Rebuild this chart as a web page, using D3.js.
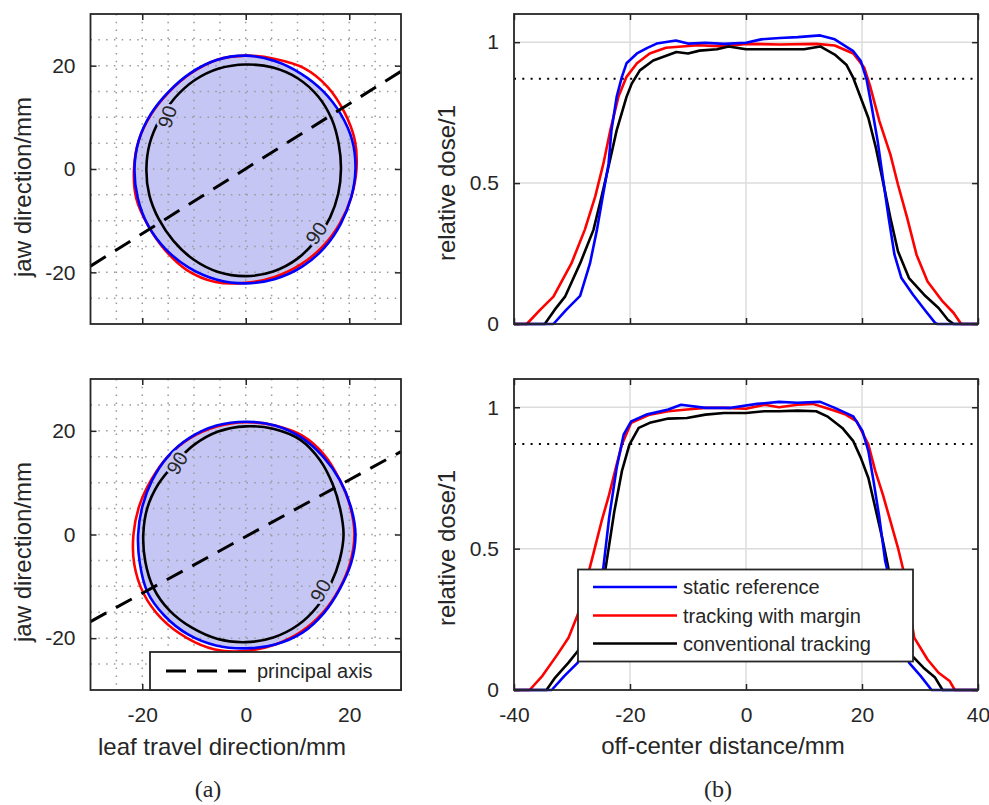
<!DOCTYPE html>
<html><head><meta charset="utf-8">
<script src="https://cdn.jsdelivr.net/npm/d3@7"></script>
<style>body{margin:0;background:#fff}svg text{font-family:"Liberation Sans",Arial,sans-serif;fill:#262626}</style>
</head><body>
<svg id="c" width="989" height="805"></svg>
<script>
// ---------------- DATA ----------------
const contourAngles = [0,15,30,45,60,75,90,105,120,135,150,165,180,195,210,225,240,255,270,285,300,315,330,345];
// radius (mm) of the 90% isodose contour at each angle, top panel (a)
const topBlue  = [21.2,21.3,21.2,21.2,21.3,21.6,21.9,21.8,21.4,21.1,21.2,21.4,21.5,21.6,21.8,21.9,22.0,22.1,22.1,22.0,21.8,21.5,21.2,21.1];
const topRed   = [21.4,21.8,22.0,22.4,22.5,22.0,21.9,21.8,21.3,21.0,21.1,21.4,21.6,21.9,21.8,22.1,22.6,22.6,22.0,21.6,21.3,21.1,21.0,21.1];
const topBlack = [18.4,18.6,19.2,19.8,20.2,20.3,20.2,20.1,19.8,19.4,19.2,19.2,19.2,19.3,19.4,19.7,20.2,20.6,20.7,20.5,20.0,19.3,18.8,18.5];
// bottom panel (a)
const botBlue  = [21.2,21.0,21.0,21.2,21.6,21.8,21.8,21.8,21.6,21.3,20.9,20.7,20.8,21.2,22.0,22.2,22.3,22.2,22.0,22.0,21.9,21.4,21.0,21.1];
const botRed   = [21.0,20.9,21.0,21.6,22.0,21.8,21.7,21.6,21.5,21.3,21.1,21.3,21.7,22.3,22.8,23.0,23.0,23.0,22.5,22.0,21.6,21.2,20.9,20.9];
const botBlack = [18.9,18.9,19.4,20.3,21.1,21.1,20.9,20.6,20.0,19.4,19.5,19.7,19.8,20.1,20.6,20.8,20.8,20.9,20.8,20.6,20.2,19.6,19.0,18.8];
// principal axis end points (mm)
const topAxisX = [-30, 30], topAxisY = [-18.8, 18.9];
const botAxisX = [-30, 30], botAxisY = [-16.8, 16.0];
// contour label positions (mm) and rotation (deg)
const topLabels = [{x:-15.2,y:10.1,rot:-72},{x:13.6,y:-12.4,rot:-55}];
const botLabels = [{x:-13.3,y:13.8,rot:-58},{x:14.4,y:-10.8,rot:-62}];
const contourLabel = "90";

// profiles (b): off-center distance (mm) / relative dose
const tBlueX  = [-40,-33.2,-31,-28.6,-26.9,-25.7,-24.7,-23.7,-23.2,-22.3,-21.4,-20.6,-18.8,-17,-15.4,-12.1,-10,-7,-3.8,0,2.6,5.8,8.9,12.8,15.3,18.5,19.8,20.8,21.7,22.7,23.6,24.6,25.6,26.8,28.8,31,32.6,33,40];
const tBlueY  = [0,0,0.05,0.1,0.215,0.334,0.452,0.568,0.687,0.806,0.877,0.925,0.96,0.98,0.995,1.006,0.995,0.998,0.994,0.998,1.01,1.015,1.018,1.024,1.01,0.968,0.933,0.867,0.767,0.649,0.518,0.376,0.246,0.163,0.104,0.045,0.004,0,0];
const tRedX   = [-40,-37.8,-35.5,-33.2,-30.1,-27.8,-26,-24.6,-23.4,-22,-20.6,-18.8,-16.6,-13.8,-8.3,-3.8,0,5.8,12.1,15.3,18.5,20.4,21.4,23,24.9,26.2,27.8,29.4,31.3,33.9,35.8,37.1,40];
const tRedY   = [0,0,0.05,0.097,0.215,0.334,0.452,0.568,0.687,0.806,0.877,0.925,0.96,0.98,0.989,0.985,0.994,0.992,0.994,0.988,0.96,0.909,0.844,0.72,0.601,0.495,0.376,0.246,0.151,0.08,0.039,0,0];
const tBlackX = [-40,-34.7,-33,-31.2,-28.6,-26.3,-24.9,-23.6,-22.3,-20.6,-19.7,-18.3,-16,-12,-10,-8,-5,-3,0,5,10,12.8,15.3,17.3,18.5,19.8,21.1,22.4,23.6,24.9,26.2,28.1,30.7,33.2,34.8,35.8,40];
const tBlackY = [0,0,0.05,0.097,0.215,0.334,0.452,0.568,0.687,0.806,0.853,0.9,0.935,0.965,0.96,0.97,0.975,0.985,0.975,0.975,0.975,0.985,0.956,0.92,0.873,0.802,0.731,0.625,0.507,0.376,0.258,0.163,0.104,0.057,0.015,0,0];

const bBlueX  = [-40,-33.5,-31.3,-29,-24.6,-23.6,-22.3,-21.1,-19.8,-17.2,-13.4,-11.2,-7,-2.6,1.9,5.7,8.9,12.8,15.3,18.5,20.1,21.1,22,23,24,28.1,30.1,32,40];
const bBlueY  = [0,0,0.05,0.097,0.432,0.609,0.786,0.903,0.95,0.974,0.992,1.009,0.998,0.998,1.012,1.019,1.016,1.019,0.998,0.968,0.915,0.845,0.738,0.609,0.456,0.097,0.05,0,0];
const bRedX   = [-40,-37.3,-35.1,-32.5,-30.6,-29,-26.2,-24.9,-23.6,-22.3,-21.4,-19.8,-16.6,-13.4,-10.2,-7,-3.8,0,3.2,5.7,8.9,11.5,13.4,15.3,17.2,19.1,21.1,22.3,23.6,24.9,26.2,27.1,29,31.3,33.2,35.1,36,40];
const bRedY   = [0,0,0.05,0.126,0.185,0.267,0.491,0.597,0.691,0.797,0.868,0.945,0.974,0.986,0.992,0.998,0.998,0.995,1.009,1.0,1.009,1.012,1.0,0.988,0.974,0.95,0.868,0.774,0.691,0.597,0.503,0.426,0.185,0.108,0.061,0.032,0,0];
const bBlackX = [-40,-34.4,-32.9,-30.6,-29,-24.2,-22.7,-21.4,-20.1,-18.5,-16.6,-13.4,-10.2,-7,-3.8,0,3.2,5.7,8.9,12.1,14,16.6,18.5,19.8,21.1,22.3,23.6,24.6,28.4,30.6,32.6,33.9,40];
const bBlackY = [0,0,0.044,0.097,0.138,0.432,0.632,0.774,0.868,0.927,0.945,0.96,0.962,0.974,0.98,0.98,0.986,0.986,0.988,0.986,0.968,0.927,0.88,0.821,0.75,0.644,0.527,0.426,0.126,0.079,0.044,0,0];

const refLevel = 0.87;
const seriesNames = ["static reference","tracking with margin","conventional tracking"];
const seriesColors = ["#0000ff","#ff0000","#000000"];
const axisLegend = "principal axis";
const xTicksA = [-20,0,20], yTicksA = [-20,0,20];
const xTicksB = [-40,-20,0,20,40], yTicksB = [0,0.5,1];
const gridA = [-25,-20,-15,-10,-5,0,5,10,15,20,25];

// ---------------- DRAW ----------------
const svg = d3.select("#c");
const axisCol = "#262626";
const L = {x0:90.5, x1:401}, R = {x0:514, x1:978};
const rows = [{y0:14, y1:324}, {y0:379, y1:690}];

const xA = d3.scaleLinear([-30,30],[L.x0,L.x1]);
const xB = d3.scaleLinear([-40,40],[R.x0,R.x1]);
const rA = d3.scaleLinear([0,30],[0,(L.x1-L.x0)/2]);
const fmt = d => String(d);

function styleAxis(g, fs){
  g.select(".domain").remove();
  g.selectAll(".tick line").attr("stroke",axisCol).attr("stroke-width",1.5);
  g.selectAll("text").attr("font-size",fs).attr("fill",axisCol).attr("font-family","Liberation Sans, Arial, sans-serif");
}

function contourPanel(row, blue, red, black, axX, axY, labels, showX){
  const y = d3.scaleLinear([-30,30],[row.y1,row.y0]);
  const g = svg.append("g");
  const cx = xA(0), cy = y(0);
  const radial = d3.lineRadial()
    .angle((d,i)=> (90 - contourAngles[i]) * Math.PI/180)
    .radius(d=> rA(d))
    .curve(d3.curveCatmullRomClosed.alpha(0.5));
  g.append("path").attr("transform",`translate(${cx},${cy})`).attr("d",radial(blue))
    .attr("fill","#c6c6f4").attr("stroke","none");
  const gg = g.append("g").attr("stroke","#9a9a9a").attr("stroke-width",1.5).attr("stroke-dasharray","1.5,6.3");
  gg.selectAll("line.v").data(gridA).join("line").attr("class","v").attr("x1",d=>xA(d)).attr("x2",d=>xA(d)).attr("y1",row.y0).attr("y2",row.y1);
  gg.selectAll("line.h").data(gridA).join("line").attr("class","h").attr("y1",d=>y(d)).attr("y2",d=>y(d)).attr("x1",L.x0).attr("x2",L.x1);
  [[red,seriesColors[1]],[blue,seriesColors[0]],[black,seriesColors[2]]].forEach(([arr,col])=>{
    g.append("path").attr("transform",`translate(${cx},${cy})`).attr("d",radial(arr))
      .attr("fill","none").attr("stroke",col).attr("stroke-width",2.6).attr("stroke-linejoin","round");
  });
  g.selectAll("text.cl").data(labels).join("text").attr("class","cl")
    .attr("transform",d=>`translate(${xA(d.x)},${y(d.y)}) rotate(${d.rot})`)
    .attr("text-anchor","middle").attr("dy","0.36em").attr("font-size",20)
    .attr("fill","#000").attr("stroke","#c6c6f4").attr("stroke-width",5).attr("paint-order","stroke")
    .text(contourLabel);
  const pl = d3.line().x(d=>xA(d[0])).y(d=>y(d[1]));
  g.append("path").attr("d",pl(axX.map((v,i)=>[v,axY[i]])))
    .attr("fill","none").attr("stroke","#000").attr("stroke-width",3).attr("stroke-dasharray","18,11");
  const ax = svg.append("g").attr("transform",`translate(0,${row.y1})`)
    .call(d3.axisBottom(xA).tickValues(xTicksA).tickSizeInner(-6).tickSizeOuter(0).tickPadding(17).tickFormat(showX? fmt: ()=>""));
  styleAxis(ax,21);
  const axT = svg.append("g").attr("transform",`translate(0,${row.y0})`)
    .call(d3.axisTop(xA).tickValues(xTicksA).tickSizeInner(-6).tickSizeOuter(0).tickFormat(()=>""));
  styleAxis(axT,21);
  const ay = svg.append("g").attr("transform",`translate(${L.x0},0)`)
    .call(d3.axisLeft(y).tickValues(yTicksA).tickSizeInner(-6).tickSizeOuter(0).tickPadding(15).tickFormat(fmt));
  styleAxis(ay,21);
  const ayR = svg.append("g").attr("transform",`translate(${L.x1},0)`)
    .call(d3.axisRight(y).tickValues(yTicksA).tickSizeInner(-6).tickSizeOuter(0).tickFormat(()=>""));
  styleAxis(ayR,21);
}

function profilePanel(row, sets, showX){
  const y = d3.scaleLinear([0,1.1],[row.y1,row.y0]);
  const g = svg.append("g");
  g.selectAll("line.gv").data(xTicksB.slice(1,-1)).join("line").attr("class","gv")
    .attr("x1",d=>xB(d)).attr("x2",d=>xB(d)).attr("y1",row.y0).attr("y2",row.y1)
    .attr("stroke","#dcdcdc").attr("stroke-width",1.5);
  g.selectAll("line.gh").data(yTicksB.slice(1)).join("line").attr("class","gh")
    .attr("y1",d=>y(d)).attr("y2",d=>y(d)).attr("x1",R.x0).attr("x2",R.x1)
    .attr("stroke","#dcdcdc").attr("stroke-width",1.5);
  g.append("line").attr("x1",xB(-40)).attr("x2",xB(40)).attr("y1",y(refLevel)).attr("y2",y(refLevel))
    .attr("stroke","#000").attr("stroke-width",2).attr("stroke-dasharray","2,6.3");
  const ln = d3.line().x(d=>xB(d[0])).y(d=>y(d[1]));
  sets.forEach(([xs,ys,col])=>{
    g.append("path").attr("d",ln(xs.map((v,i)=>[v,ys[i]])))
      .attr("fill","none").attr("stroke",col).attr("stroke-width",2.6).attr("stroke-linejoin","round");
  });
  const ax = svg.append("g").attr("transform",`translate(0,${row.y1})`)
    .call(d3.axisBottom(xB).tickValues(xTicksB).tickSizeInner(-6).tickSizeOuter(0).tickPadding(17).tickFormat(showX? fmt: ()=>""));
  styleAxis(ax,21);
  const axT = svg.append("g").attr("transform",`translate(0,${row.y0})`)
    .call(d3.axisTop(xB).tickValues(xTicksB).tickSizeInner(-6).tickSizeOuter(0).tickFormat(()=>""));
  styleAxis(axT,21);
  const ay = svg.append("g").attr("transform",`translate(${R.x0},0)`)
    .call(d3.axisLeft(y).tickValues(yTicksB).tickSizeInner(-6).tickSizeOuter(0).tickPadding(15).tickFormat(fmt));
  styleAxis(ay,21);
  const ayR = svg.append("g").attr("transform",`translate(${R.x1},0)`)
    .call(d3.axisRight(y).tickValues(yTicksB).tickSizeInner(-6).tickSizeOuter(0).tickFormat(()=>""));
  styleAxis(ayR,21);
}

function box(x0,x1,row){
  svg.append("rect").attr("x",x0).attr("y",row.y0).attr("width",x1-x0).attr("height",row.y1-row.y0)
    .attr("fill","none").attr("stroke",axisCol).attr("stroke-width",1.8);
}

contourPanel(rows[0], topBlue, topRed, topBlack, topAxisX, topAxisY, topLabels, false);
contourPanel(rows[1], botBlue, botRed, botBlack, botAxisX, botAxisY, botLabels, true);
profilePanel(rows[0], [[tRedX,tRedY,seriesColors[1]],[tBlackX,tBlackY,seriesColors[2]],[tBlueX,tBlueY,seriesColors[0]]], false);
profilePanel(rows[1], [[bRedX,bRedY,seriesColors[1]],[bBlackX,bBlackY,seriesColors[2]],[bBlueX,bBlueY,seriesColors[0]]], true);
box(L.x0,L.x1,rows[0]); box(L.x0,L.x1,rows[1]); box(R.x0,R.x1,rows[0]); box(R.x0,R.x1,rows[1]);

// legend (a)
const lg = svg.append("g");
lg.append("rect").attr("x",150).attr("y",652).attr("width",L.x1-150).attr("height",rows[1].y1-652)
  .attr("fill","#fff").attr("stroke",axisCol).attr("stroke-width",1.8);
lg.append("line").attr("x1",166).attr("x2",246).attr("y1",671).attr("y2",671)
  .attr("stroke","#000").attr("stroke-width",3).attr("stroke-dasharray","20,11");
lg.append("text").attr("x",257).attr("y",671).attr("dy","0.35em").attr("font-size",20).text(axisLegend);

// legend (b)
const lb = svg.append("g");
lb.append("rect").attr("x",578).attr("y",569.5).attr("width",335).attr("height",92)
  .attr("fill","#fff").attr("stroke",axisCol).attr("stroke-width",1.8);
const legY = [587,615.5,643.5];
seriesNames.forEach((n,i)=>{
  lb.append("line").attr("x1",593).attr("x2",677).attr("y1",legY[i]).attr("y2",legY[i])
    .attr("stroke",seriesColors[i]).attr("stroke-width",2.6);
  lb.append("text").attr("x",683).attr("y",legY[i]).attr("dy","0.35em").attr("font-size",20).text(n);
});

// axis titles
const t = (x,y,s,rot,fs)=> svg.append("text").attr("transform",`translate(${x},${y}) rotate(${rot||0})`)
  .attr("text-anchor","middle").attr("font-size",fs||24).text(s);
t(31,187,"jaw direction/mm",-90);
t(31,552,"jaw direction/mm",-90);
t(455,183,"relative dose/1",-90);
t(455,548,"relative dose/1",-90);
t(222,755,"leaf travel direction/mm",0);
t(723,754,"off-center distance/mm",0);
svg.append("text").attr("x",208).attr("y",797).attr("text-anchor","middle").attr("font-size",24)
  .style("font-family","'Liberation Serif','DejaVu Serif',serif").text("(a)");
svg.append("text").attr("x",718).attr("y",797).attr("text-anchor","middle").attr("font-size",24)
  .style("font-family","'Liberation Serif','DejaVu Serif',serif").text("(b)");
</script>
</body></html>
